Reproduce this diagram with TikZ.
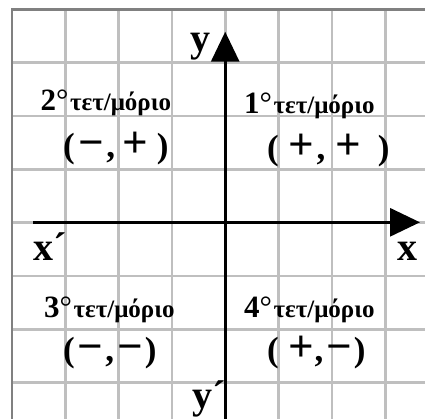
\documentclass[tikz,border=0pt]{standalone}
\usepackage{fontspec}
\setmainfont{Liberation Serif}
\usetikzlibrary{arrows.meta}
\newcommand{\bigsgn}[1]{{\fontsize{45}{45}\selectfont #1}}
\newcommand{\qlab}[1]{{\fontsize{31}{31}\selectfont #1}{\mdseries\fontsize{31}{31}\selectfont°}\hspace{1.5pt}\fontsize{25}{25}\selectfont τετ/μόριο}
\begin{document}
\begin{tikzpicture}[x=1pt,y=-1pt,
  gridline/.style={draw=gray!50,line width=2.8pt},
  frame/.style={draw=gray,line width=2.6pt},
  axis/.style={line width=3pt,-{Triangle[length=30pt,width=28pt]}},
  axlab/.style={inner sep=0pt,anchor=base west,font=\fontsize{40}{40}\selectfont\bfseries},
  quad/.style={inner sep=0pt,anchor=base west,font=\bfseries},
  sign/.style={inner sep=0pt,anchor=base west,font=\fontsize{35}{35}\selectfont\bfseries}]
\fill[white] (0,0) rectangle (425,418);
\useasboundingbox (0,0) rectangle (425,418);
\begin{scope}
\clip (0,0) rectangle (425,418);
\foreach \i in {1,...,7} \draw[gridline] ({12+53.33*\i},9.3) -- ++(0,420);
\foreach \i in {1,...,7} \draw[gridline] (12,{9.3+53.33*\i}) -- ++(420,0);
\draw[frame] (12,430) -- (12,9.3) -- (430,9.3);
\end{scope}
% axes
\coordinate (xl) at (33,222.3);
\coordinate (xr) at (420,222.3);
\coordinate (yb) at (225.2,420);
\coordinate (yt) at (225.2,31.7);
\draw[axis] (xl) -- (xr);
\draw[axis] (yb) -- (yt);
% axis labels
\node[axlab] (ly) at (190,51) {y};
\node[axlab] (lyp) at (192,408) {y´};
\node[axlab] (lxp) at (33,260) {x´};
\node[axlab] (lx) at (397,260) {x};
% quadrant labels
\node[quad] (q2) at (40.5,110) {\qlab{2}};
\node[quad] (q1) at (244,113) {\qlab{1}};
\node[quad] (q3) at (44,317) {\qlab{3}};
\node[quad] (q4) at (244,317) {\qlab{4}};
% signs
\node[sign] (s2) at (63,157) {(\hspace{4pt}\bigsgn{−}\hspace{2pt},\hspace{7pt}\bigsgn{+}\hspace{9pt})};
\node[sign] (s1) at (267,159) {(\hspace{10pt}\bigsgn{+}\hspace{2pt},\hspace{10pt}\bigsgn{+}\hspace{17pt})};
\node[sign] (s3) at (63,361) {(\hspace{3pt}\bigsgn{−}\hspace{2pt},\hspace{3pt}\bigsgn{−}\hspace{2pt})};
\node[sign] (s4) at (267,361) {(\hspace{10pt}\bigsgn{+},\hspace{3pt}\bigsgn{−}\hspace{2pt})};
\end{tikzpicture}
\end{document}
